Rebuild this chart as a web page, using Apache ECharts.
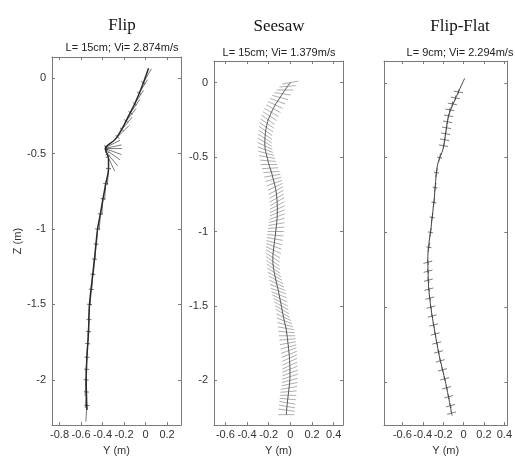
<!DOCTYPE html>
<html><head><meta charset="utf-8">
<script src="https://cdn.jsdelivr.net/npm/echarts@6/dist/echarts.min.js"></script>
<style>html,body{margin:0;padding:0;background:#fff}#c{width:515px;height:461px}</style>
</head><body><div id="c"></div>
<script>
// ---------- Data ----------
const panelTitles = ['Flip', 'Seesaw', 'Flip-Flat'];
const panelSubtitles = ['L= 15cm; Vi= 2.874m/s', 'L= 15cm; Vi= 1.379m/s', 'L= 9cm; Vi= 2.294m/s'];
const bodyLengths = [0.15, 0.15, 0.09];
const xTickValues = [[-0.8, -0.6, -0.4, -0.2, 0, 0.2], [-0.6, -0.4, -0.2, 0, 0.2, 0.4], [-0.6, -0.4, -0.2, 0, 0.2, 0.4]];
const zTickValues = [0, -0.5, -1, -1.5, -2];

// Flip trajectory (Y, Z)
const flipPathY = [0.028, -0.03, -0.096, -0.15, -0.205, -0.282, -0.375, -0.345, -0.344, -0.37, -0.396, -0.42, -0.446, -0.475, -0.499, -0.521, -0.53, -0.545, -0.552, -0.545];
const flipPathZ = [0.066, -0.05, -0.163, -0.24, -0.318, -0.406, -0.467, -0.53, -0.6, -0.7, -0.8, -0.9, -1.0, -1.2, -1.35, -1.5, -1.68, -1.85, -2.0, -2.2];
// Flip body markers (anchor Y, Z, angle deg)
const flipMarkY = [-0.02, -0.06, -0.1, -0.14, -0.18, -0.22, -0.26, -0.37, -0.37, -0.37, -0.365, -0.36, -0.355, -0.35, -0.344, -0.37, -0.396, -0.42, -0.446, -0.46, -0.475, -0.49, -0.505, -0.521, -0.526, -0.53, -0.538, -0.545, -0.548, -0.552, -0.55, -0.545];
const flipMarkZ = [-0.03, -0.1, -0.17, -0.23, -0.285, -0.34, -0.39, -0.46, -0.465, -0.467, -0.47, -0.48, -0.5, -0.52, -0.6, -0.7, -0.8, -0.9, -1.0, -1.1, -1.2, -1.3, -1.4, -1.5, -1.6, -1.68, -1.76, -1.85, -1.93, -2.0, -2.08, -2.17];
const flipMarkAng = [60, 58, 57, 55, 52, 50, 45, 27, 12, 0, -20, -35, -50, -65, -94, -94, -94, -94, -94, -94, -94, -94, -94, -94, -94, -94, -94, -94, -94, -94, -94, -94];

// Seesaw trajectory = marker centres (Y, Z, angle deg)
const seesawY = [0.0, -0.025, -0.05, -0.073, -0.095, -0.118, -0.14, -0.158, -0.175, -0.19, -0.205, -0.214, -0.222, -0.228, -0.232, -0.235, -0.236, -0.235, -0.232, -0.224, -0.215, -0.207, -0.198, -0.187, -0.175, -0.166, -0.157, -0.148, -0.14, -0.134, -0.128, -0.125, -0.122, -0.121, -0.12, -0.121, -0.122, -0.124, -0.127, -0.131, -0.135, -0.139, -0.143, -0.148, -0.152, -0.156, -0.16, -0.162, -0.162, -0.159, -0.155, -0.149, -0.142, -0.134, -0.126, -0.118, -0.11, -0.104, -0.097, -0.09, -0.083, -0.077, -0.07, -0.063, -0.056, -0.048, -0.04, -0.035, -0.03, -0.026, -0.022, -0.018, -0.015, -0.011, -0.008, -0.006, -0.005, -0.004, -0.003, -0.004, -0.005, -0.008, -0.012, -0.016, -0.02, -0.024, -0.028, -0.031, -0.035, -0.037];
const seesawZ = [0.0, -0.025, -0.05, -0.075, -0.1, -0.125, -0.15, -0.175, -0.2, -0.225, -0.25, -0.275, -0.3, -0.325, -0.35, -0.375, -0.4, -0.425, -0.45, -0.475, -0.5, -0.525, -0.55, -0.575, -0.6, -0.625, -0.65, -0.675, -0.7, -0.725, -0.75, -0.775, -0.8, -0.825, -0.85, -0.875, -0.9, -0.925, -0.95, -0.975, -1.0, -1.025, -1.05, -1.075, -1.1, -1.125, -1.15, -1.175, -1.2, -1.225, -1.25, -1.275, -1.3, -1.325, -1.35, -1.375, -1.4, -1.425, -1.45, -1.475, -1.5, -1.525, -1.55, -1.575, -1.6, -1.625, -1.65, -1.675, -1.7, -1.725, -1.75, -1.775, -1.8, -1.825, -1.85, -1.875, -1.9, -1.925, -1.95, -1.975, -2.0, -2.025, -2.05, -2.075, -2.1, -2.125, -2.15, -2.175, -2.2, -2.23];
const seesawAng = [10, 5, 0, -8, -15, -20, -25, -28, -30, -33, -35, -35, -35, -35, -35, -33, -30, -25, -20, -15, -10, -5, 0, 3, 5, 10, 15, 20, 25, 28, 30, 30, 30, 28, 25, 22, 20, 15, 10, 5, 0, -5, -10, -15, -20, -25, -30, -33, -35, -35, -35, -33, -30, -28, -25, -22, -20, -22, -25, -28, -30, -30, -30, -25, -20, -15, -10, -5, 0, 5, 10, 15, 20, 22, 25, 25, 25, 22, 20, 18, 15, 12, 10, 5, 0, -5, -10, -10, -8, 0];

// Flip-Flat trajectory (Y, Z)
const flatPathY = [0.01, -0.07, -0.147, -0.178, -0.2, -0.256, -0.287, -0.319, -0.35, -0.343, -0.319, -0.287, -0.24, -0.178, -0.12];
const flatPathZ = [0.03, -0.09, -0.22, -0.35, -0.44, -0.55, -0.77, -0.97, -1.16, -1.36, -1.51, -1.645, -1.82, -2.0, -2.2];
// Flip-Flat body markers (centre Y, Z, angle deg)
const flatMarkY = [-0.05, -0.08, -0.11, -0.135, -0.147, -0.157, -0.167, -0.176, -0.186, -0.196, -0.235, -0.265, -0.278, -0.29, -0.308, -0.324, -0.34, -0.35, -0.348, -0.345, -0.34, -0.33, -0.32, -0.308, -0.293, -0.278, -0.262, -0.245, -0.228, -0.207, -0.185, -0.165, -0.145, -0.128, -0.118];
const flatMarkZ = [-0.06, -0.1, -0.14, -0.18, -0.22, -0.26, -0.3, -0.34, -0.38, -0.42, -0.5, -0.6, -0.7, -0.8, -0.9, -1.0, -1.1, -1.2, -1.26, -1.32, -1.38, -1.44, -1.5, -1.56, -1.62, -1.68, -1.74, -1.8, -1.86, -1.92, -1.98, -2.04, -2.1, -2.16, -2.21];
const flatMarkAng = [-10, -10, -10, -10, -10, -10, -10, -10, -10, -10, 78, 80, 80, 80, 80, 80, 80, 15, 15, 15, 15, 15, 15, 15, 15, 15, 15, 15, 15, 15, 15, 15, 15, 15, 15];

// ---------- Layout / style ----------
const grids = [
  {left: 52, top: 57, width: 129, height: 371},
  {left: 214, top: 61, width: 129, height: 371},
  {left: 384, top: 61, width: 129, height: 370}
];
const xRanges = [[-0.87, 0.33], [-0.705, 0.486], [-0.78, 0.43]];
const zRanges = [[-2.3, 0.14], [-2.3, 0.145], [-2.29, 0.147]];
const anchors = ['end', 'center', 'center'];
const crossTick = [2.5, 0, 2.5];
const segColors = ['rgba(80,80,80,0.75)', 'rgba(120,120,120,0.6)', 'rgba(80,80,80,0.75)'];
const pathStyles = [{color: '#2a2a2a', width: 1.5}, {color: '#555', width: 1}, {color: '#444', width: 1}];

const axisColor = '#7a7a7a';
const labelStyle = {color: '#333', fontFamily: 'Liberation Sans, Arial', fontSize: 11};

const xAxes = [], yAxes = [], series = [], titles = [];
grids.forEach((g, i) => {
  const line = {show: true, onZero: false, lineStyle: {color: axisColor}};
  xAxes.push({
    type: 'value', gridIndex: i, position: 'bottom', min: xRanges[i][0], max: xRanges[i][1],
    axisLine: line,
    axisTick: {show: true, inside: true, length: 3, customValues: xTickValues[i], lineStyle: {color: axisColor}},
    axisLabel: {show: true, customValues: xTickValues[i], margin: 4, ...labelStyle, formatter: v => String(Math.round(v * 10) / 10)},
    splitLine: {show: false},
    name: 'Y (m)', nameLocation: 'middle', nameGap: 18,
    nameTextStyle: {color: '#333', fontFamily: 'Liberation Sans, Arial', fontSize: 11}
  });
  xAxes.push({
    type: 'value', gridIndex: i, position: 'top', min: xRanges[i][0], max: xRanges[i][1],
    axisLine: line,
    axisTick: {show: true, inside: true, length: 3, customValues: xTickValues[i], lineStyle: {color: axisColor}},
    axisLabel: {show: false}, splitLine: {show: false}
  });
  yAxes.push({
    type: 'value', gridIndex: i, position: 'left', min: zRanges[i][0], max: zRanges[i][1],
    axisLine: line,
    axisTick: {show: true, inside: true, length: 3, customValues: zTickValues, lineStyle: {color: axisColor}},
    axisLabel: {show: i < 2, customValues: zTickValues, margin: 6, ...labelStyle},
    splitLine: {show: false},
    name: i === 0 ? 'Z (m)' : '', nameLocation: 'middle', nameGap: 28,
    nameTextStyle: {color: '#333', fontFamily: 'Liberation Sans, Arial', fontSize: 11}
  });
  yAxes.push({
    type: 'value', gridIndex: i, position: 'right', min: zRanges[i][0], max: zRanges[i][1],
    axisLine: line,
    axisTick: {show: true, inside: true, length: 3, customValues: zTickValues, lineStyle: {color: axisColor}},
    axisLabel: {show: false}, splitLine: {show: false}
  });
});

function makeMarkers(i, ys, zs, angs) {
  const L = bodyLengths[i];
  const anchor = anchors[i];
  const t = crossTick[i];
  return {
    type: 'custom', xAxisIndex: 2 * i, yAxisIndex: 2 * i, silent: true, z: 2,
    data: ys.map((y, k) => [y, zs[k], angs[k]]),
    renderItem: (params, api) => {
      const c = api.coord([api.value(0), api.value(1)]);
      const lenPx = api.size([L, 0])[0];
      const a = api.value(2) * Math.PI / 180;
      const ux = Math.cos(a), uy = -Math.sin(a);
      let p1, p2;
      if (anchor === 'end') { p1 = c; p2 = [c[0] + ux * lenPx, c[1] + uy * lenPx]; }
      else { p1 = [c[0] - ux * lenPx / 2, c[1] - uy * lenPx / 2]; p2 = [c[0] + ux * lenPx / 2, c[1] + uy * lenPx / 2]; }
      const children = [
        {type: 'line', shape: {x1: p1[0], y1: p1[1], x2: p2[0], y2: p2[1]}, style: {stroke: segColors[i], lineWidth: 1}}
      ];
      if (t > 0) children.push({type: 'line', shape: {x1: c[0] + uy * t, y1: c[1] - ux * t, x2: c[0] - uy * t, y2: c[1] + ux * t}, style: {stroke: 'rgba(50,50,50,0.7)', lineWidth: 1}});
      return {type: 'group', children};
    }
  };
}
function makePath(i, ys, zs) {
  return {
    type: 'line', xAxisIndex: 2 * i, yAxisIndex: 2 * i, silent: true, z: 3,
    data: ys.map((y, k) => [y, zs[k]]), showSymbol: false, smooth: 0.3,
    lineStyle: pathStyles[i]
  };
}

series.push(makeMarkers(0, flipMarkY, flipMarkZ, flipMarkAng));
series.push(makePath(0, flipPathY, flipPathZ));
series.push(makeMarkers(1, seesawY, seesawZ, seesawAng));
series.push(makePath(1, seesawY, seesawZ));
series.push(makeMarkers(2, flatMarkY, flatMarkZ, flatMarkAng));
series.push(makePath(2, flatPathY, flatPathZ));

const titleCenters = [[117, 12, 37], [274, 13, 42], [455, 13, 42]];
panelTitles.forEach((t, i) => {
  titles.push({text: t, left: titleCenters[i][0], top: titleCenters[i][1], textAlign: 'center',
    textStyle: {fontFamily: 'Liberation Serif, Times New Roman, serif', fontSize: 17, fontWeight: 'normal', color: '#111'}});
  titles.push({text: panelSubtitles[i], left: titleCenters[i][0], top: titleCenters[i][2], textAlign: 'center',
    textStyle: {fontFamily: 'Liberation Sans, Arial', fontSize: 11, fontWeight: 'normal', color: '#222'}});
});

const chart = echarts.init(document.getElementById('c'), null, {renderer: 'canvas'});
chart.setOption({
  animation: false, backgroundColor: '#fff',
  title: titles, grid: grids, xAxis: xAxes, yAxis: yAxes, series: series
});
</script></body></html>
